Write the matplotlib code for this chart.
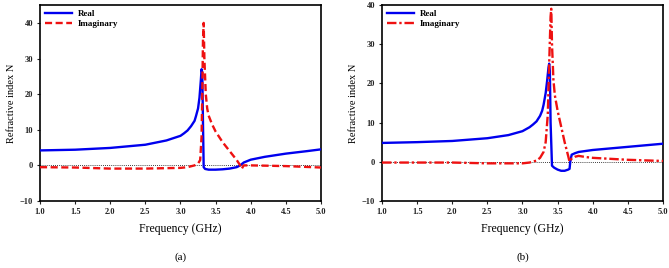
import matplotlib
matplotlib.use("Agg")
import matplotlib.pyplot as plt

plt.rcParams['font.family'] = 'Liberation Serif'
plt.rcParams['font.weight'] = 'bold'

# panel (a)
fa_re = [1.0, 1.5, 2.0, 2.5, 2.8, 3.0, 3.05, 3.1, 3.15, 3.2, 3.22, 3.25, 3.27, 3.29,
         3.30, 3.31, 3.32, 3.33, 3.35, 3.4, 3.5, 3.6, 3.7, 3.8, 3.85, 3.9, 4.0, 4.2,
         4.5, 4.8, 5.0]
na_re = [4.2, 4.4, 4.9, 5.8, 7.0, 8.3, 9.0, 9.8, 11.0, 12.5, 13.8, 16, 19, 24,
         27, 26, 12, -0.5, -1.0, -1.2, -1.2, -1.1, -0.9, -0.5, 0.0, 0.8, 1.6, 2.4,
         3.3, 4.0, 4.5]
fa_im = [1.0, 1.5, 2.0, 2.5, 3.0, 3.1, 3.2, 3.25, 3.28, 3.30, 3.31, 3.32, 3.33, 3.34,
         3.36, 3.38, 3.4, 3.45, 3.5, 3.6, 3.7, 3.8, 3.85, 3.87, 3.9, 4.0, 4.5, 5.0]
na_im = [-0.5, -0.6, -0.9, -0.9, -0.7, -0.5, 0.0, 0.5, 1.5, 8, 20, 35, 40, 30,
         20, 16, 14, 11.5, 9.5, 6.5, 4, 1.5, 0, -1, 0, 0, -0.2, -0.6]

# panel (b)
fb_re = [1.0, 1.5, 2.0, 2.5, 2.8, 3.0, 3.05, 3.1, 3.15, 3.2, 3.25, 3.28, 3.3, 3.33,
         3.35, 3.37, 3.38, 3.39, 3.40, 3.42, 3.45, 3.5, 3.55, 3.6, 3.65, 3.67, 3.68,
         3.70, 3.75, 3.8, 4.0, 4.5, 5.0]
nb_re = [4.8, 5.0, 5.3, 6.0, 6.8, 7.8, 8.3, 8.8, 9.5, 10.3, 11.7, 13, 14.5, 17.5,
         20.5, 24, 25, 23, 10, -1, -1.5, -2.0, -2.3, -2.3, -2.0, -1.8, 0,
         1.8, 2.2, 2.5, 3.0, 3.8, 4.6]
fb_im = [1.0, 1.5, 2.0, 2.5, 3.0, 3.1, 3.2, 3.25, 3.3, 3.33, 3.36, 3.38, 3.40, 3.41,
         3.42, 3.44, 3.46, 3.5, 3.55, 3.6, 3.65, 3.67, 3.70, 3.75, 3.8, 3.9, 4.0,
         4.5, 5.0]
nb_im = [-0.2, -0.2, -0.2, -0.4, -0.4, -0.2, 0.3, 1.0, 2.5, 5, 12, 25, 37, 39,
         30, 21, 17, 13, 9, 5, 1.5, 0, 0.8, 1.3, 1.5, 1.2, 1.0,
         0.5, 0.2]

xticks = [1.0, 1.5, 2.0, 2.5, 3.0, 3.5, 4.0, 4.5, 5.0]
yticks = [-10, 0, 10, 20, 30, 40]

fig = plt.figure(figsize=(6.69, 2.68), dpi=100)
ax1 = fig.add_axes([0.0598, 0.25, 0.42, 0.731])
ax2 = fig.add_axes([0.571, 0.25, 0.42, 0.732])

panels = [
    (ax1, fa_re, na_re, fa_im, na_im, (0, (3, 1.5)), 45, '(a)'),
    (ax2, fb_re, nb_re, fb_im, nb_im, (0, (4, 1.2, 1, 1.2)), 40, '(b)'),
]

for ax, fr, nr, fi, ni, ls, ytop, tag in panels:
    ax.axhline(0, color='black', lw=0.6, ls=(0, (1, 1.5)), zorder=1)
    ax.plot(fr, nr, color='#0000ee', lw=1.7, label='Real', zorder=3)
    ax.plot(fi, ni, color='#ee1111', lw=1.7, ls=ls, label='Imaginary', zorder=4)
    ax.set_xlim(1.0, 5.0)
    ax.set_ylim(-10, ytop)
    ax.set_xticks(xticks)
    ax.set_xticklabels([f'{v:.1f}' for v in xticks])
    ax.set_yticks(yticks)
    ax.tick_params(labelsize=6, length=2, width=0.8, pad=3, colors='#222222')
    for s in ax.spines.values():
        s.set_linewidth(1.2)
    ax.set_xlabel('Frequency (GHz)', fontsize=8.5, labelpad=5)
    ax.set_ylabel('Refractive index N', fontsize=7.5, labelpad=3)
    ax.text(0.5, -0.286, tag, transform=ax.transAxes, ha='center', va='center',
            fontsize=8, fontweight='normal')
    ax.legend(loc='upper left', frameon=False, fontsize=6.5, handlelength=3.0,
              borderaxespad=0.15, labelspacing=0.15, handletextpad=0.6)

fig.savefig('out.png', dpi=100)
